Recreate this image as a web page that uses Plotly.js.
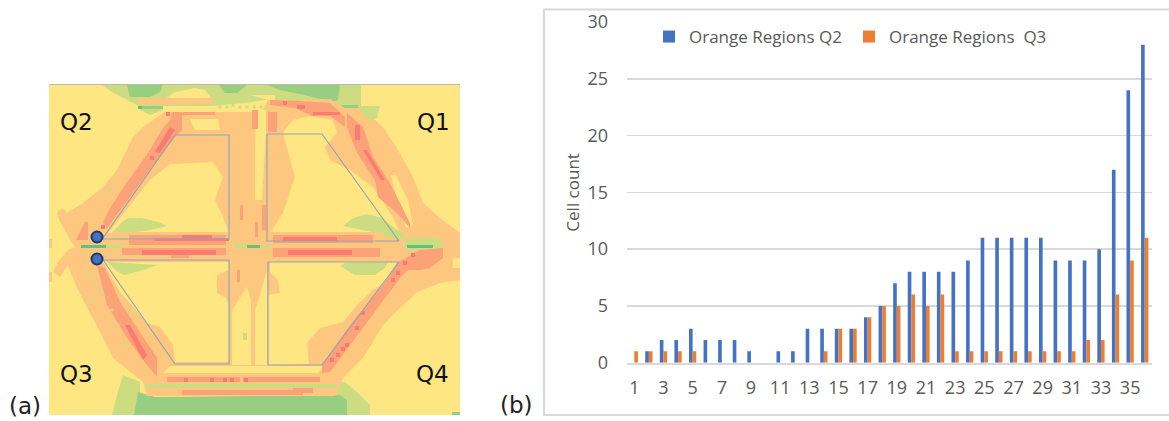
<!DOCTYPE html>
<html><head><meta charset="utf-8">
<script src="https://cdn.plot.ly/plotly-3.0.1.min.js"></script>
<style>html,body{margin:0;padding:0;background:#fff}</style></head>
<body><div id="chart" style="width:1169px;height:421px"></div>
<script>
// ---- panel (b) data ----
const categories = [1,2,3,4,5,6,7,8,9,10,11,12,13,14,15,16,17,18,19,20,21,22,23,24,25,26,27,28,29,30,31,32,33,34,35,36];
const orangeQ2 = [0,1,2,2,3,2,2,2,1,0,1,1,3,3,3,3,4,5,7,8,8,8,8,9,11,11,11,11,11,9,9,9,10,17,24,28];
const orangeQ3 = [1,1,1,1,1,0,0,0,0,0,0,0,0,1,3,3,4,5,5,6,5,6,1,1,1,1,1,1,1,1,1,2,2,6,9,11];
const xTickVals = [1,3,5,7,9,11,13,15,17,19,21,23,25,27,29,31,33,35];
const yTickVals = [0,5,10,15,20,25,30];

// ---- panel (a) data: heat-map regions ----
const YEL='#FEE782', ORG='#FDC77F', SAL='#FCA278', RED='#FA7B70', LGR='#CBDC81', GRN='#97CE7F', DGR='#68BF7B';
const mapBackground = [[49,85],[460,85],[460,415],[49,415]];
const topLightGreen = [[102,85],[361,85],[361,108],[340,110],[265,100],[245,103],[163,110],[150,115],[140,110],[137,105],[112,92]];
const bottomLeftLight = [[112,415],[117,395],[123,375],[140,382],[140,392],[134,415]];
const bottomRightLight = [[330,382],[345,382],[360,395],[370,405],[370,415],[347,415]];
const topYellowA = [[175,92],[195,88],[205,90],[212,99],[165,99]];
const topYellowB = [[250,95],[275,95],[275,103],[250,106],[163,106],[163,112],[268,112],[268,100]];
const topGreenA = [[127,85],[163,85],[160,92],[150,97],[130,97]];
const topGreenB = [[219,85],[247,85],[237,93],[225,93]];
const topGreenC = [[267,85],[340,85],[338,100],[333,102],[300,94],[280,90]];
const topGreenD = [[333,105],[358,105],[358,109],[333,109]];
const topGreenE = [[142,106],[163,106],[163,109],[142,109]];
const topDark = [[138,106],[142,106],[142,109],[138,109]];
const bottomGreen = [[134,415],[138,392],[155,397],[340,395],[347,400],[347,415]];
const cornerGreen = [[452,412],[460,412],[460,415],[452,415]];
const topOrangeBand = [[138,98],[212,98],[212,104],[138,105]];
const orangeMain = [[165,112],[262,112],[268,100],[300,100],[330,99],[345,108],[362,108],[373,118],[383,127],[398,150],[413,177],[423,203],[440,218],[460,233],[460,280],[440,283],[417,292],[400,308],[383,325],[363,358],[343,378],[335,396],[147,396],[143,382],[113,358],[100,332],[77,288],[68,265],[60,277],[53,272],[58,262],[68,250],[75,247],[70,240],[66,232],[60,222],[57,213],[62,208],[67,213],[83,203],[103,187],[117,170],[133,137],[143,127]];
const leftSpeckA = [[49,272],[52,272],[52,282],[49,282]];
const leftSpeckB = [[49,239],[52,239],[52,248],[49,248]];
const yellowQ2 = [[108,233],[150,180],[170,164],[213,162],[223,177],[215,200],[223,217],[229,233]];
const yellowQ1 = [[287,127],[293,120],[310,116],[333,120],[337,133],[325,147],[330,160],[350,170],[373,187],[393,217],[400,233],[270,233],[283,213],[288,197],[295,177],[283,133]];
const yellowQ3 = [[103,262],[229,262],[229,270],[217,275],[217,293],[226,298],[229,305],[229,362],[175,362],[173,345],[160,327],[147,323],[120,292]];
const yellowQ4 = [[270,262],[397,262],[385,282],[373,290],[357,305],[343,322],[320,328],[307,343],[309,364],[268,365],[268,295],[280,293],[278,280],[270,272]];
const yellowStrip = [[170,366],[325,366],[318,373],[163,373]];
const yellowNearTop = [[190,119],[218,119],[220,130],[195,130]];
const yellowColumn = [[256,110],[266,110],[266,133],[262,200],[255,200],[255,150]];
const yellowLowerLeft = [[232,365],[232,310],[240,298],[247,287],[251,300],[251,365]];
const yellowLowerRight = [[255,365],[255,310],[260,295],[267,270],[267,365]];
const yellowNotch = [[453,258],[460,258],[460,268],[453,268]];
const yellowStripe = [[391,175],[396,175],[408,200],[413,225],[406,228],[398,205]];
const greenIslandQ2 = [[112,233],[122,222],[128,218],[142,218],[158,222],[167,226],[150,230],[130,233]];
const greenIslandQ1 = [[343,226],[353,218],[367,214],[382,218],[397,230],[407,235],[398,240],[377,233]];
const greenIslandQ3 = [[107,262],[158,265],[143,270],[125,275],[118,272]];
const greenIslandQ4 = [[340,266],[345,263],[388,262],[385,268],[375,275],[355,275]];
const greenTopRight = [[361,106],[380,106],[377,118],[372,120],[365,118],[360,110]];
const greenRightTip = [[405,238],[440,238],[443,250],[405,250]];
const greenSpeck = [[243,333],[247,333],[247,340],[243,340]];
const salmonQ2 = [[172,112],[182,112],[182,130],[175,137],[150,170],[107,228],[103,222],[110,208],[125,185],[148,153],[163,128],[170,120]];
const salmonFlare = [[76,240],[85,222],[88,222],[88,240]];
const salmonQ1 = [[347,113],[363,127],[373,157],[390,183],[400,203],[410,223],[410,228],[397,213],[378,197],[375,180],[357,153],[347,127]];
const salmonQ3 = [[97,265],[105,268],[120,302],[157,358],[157,377],[147,365],[127,338],[107,305]];
const salmonQ4 = [[417,252],[420,258],[400,278],[367,322],[337,362],[330,372],[322,373],[322,365],[350,325],[383,285],[398,262]];
const salmonRightTip = [[396,265],[420,250],[443,248],[443,258],[430,268],[420,270],[405,270]];
const salmonTopRight = [[270,100],[300,101],[330,103],[340,112],[345,117],[345,127],[330,116],[312,116],[295,108],[270,105]];
const salmonTopLeft = [[173,112],[215,112],[215,115],[173,115]];
const salmonColA = [[252,110],[258,110],[258,129],[252,129]];
const salmonColB = [[268,112],[277,112],[277,132],[268,132]];
const salmonColC = [[240,205],[243,205],[243,220],[240,220]];
const salmonColD = [[255,222],[258,222],[258,237],[255,237]];
const salmonColE = [[262,205],[266,205],[266,230],[262,230]];
const salmonColF = [[237,270],[240,270],[240,282],[237,282]];
const orangeBandUL = [[115,232],[245,232],[245,245],[115,245]];
const orangeBandLL = [[122,248],[230,248],[230,258],[122,258]];
const orangeBandUR = [[270,232],[383,232],[383,243],[270,243]];
const orangeBandLR = [[267,248],[390,248],[390,258],[267,258]];
const salmonBandUL = [[129,235],[226,235],[226,245],[129,245]];
const salmonBandLL = [[122,248],[226,248],[226,255],[189,255],[189,258],[171,258],[171,255],[122,255]];
const salmonBandUR = [[273,235],[373,235],[373,243],[273,243]];
const salmonBandLR = [[273,248],[380,248],[380,257],[273,257]];
const redBandUL1 = [[182,235],[212,235],[212,238],[182,238]];
const redBandUL2 = [[155,238],[229,238],[229,241],[155,241]];
const redBandLL = [[142,250],[216,250],[216,255],[142,255]];
const redBandUR = [[283,237],[337,237],[337,241],[283,241]];
const redBandLR = [[288,250],[352,250],[352,255],[288,255]];
const salmonBottomA = [[167,377],[240,377],[240,382],[167,382]];
const salmonBottomB = [[243,377],[320,377],[320,382],[243,382]];
const salmonBottomC = [[182,390],[303,390],[303,395],[182,395]];
const salmonBottomD = [[293,388],[313,388],[313,393],[293,393]];
const lightBandBottom = [[145,384],[337,384],[337,388],[145,388]];
const redQ2A = [[155,152],[170,127],[175,130],[160,153]];
const redQ1A = [[355,125],[360,125],[360,140],[355,140]];
const redQ1B = [[363,150],[367,150],[385,180],[381,180]];
const redQ3 = [[125,325],[130,325],[147,355],[143,360]];
const redTopRight = [[313,112],[340,112],[340,115],[313,115]];
const greenBarA = [[81,245],[106,245],[106,248],[81,248]];
const greenBarB = [[247,245],[260,245],[260,248],[247,248]];
const greenBarC = [[407,245],[433,245],[433,248],[407,248]];
const lightBarA = [[106,245],[122,245],[122,248],[106,248]];
const lightBarB = [[235,243],[247,243],[247,248],[235,248]];
const lightBarC = [[260,245],[270,245],[270,248],[260,248]];
const redSpotsX = [186,212,225,232,246,285,299,303,332,338,343,347,357,363,393,398,405,413,168,152,103];
const redSpotsY = [380,380,380,380,380,103,107,107,360,355,349,345,328,313,280,273,263,255,114,158,227];
const greenDotsX = [220,227,233,240,247,254,261,268,110,106,112,100,96,93,90,118,123];
const greenDotsY = [107,107,105,107,107,107,107,107,190,195,310,290,280,300,275,325,345];

const trapQ2 = [[103,238],[175,135],[229,135],[229,239],[103,239]];
const trapQ1 = [[267,134],[322,134],[399,241],[267,241],[267,134]];
const trapQ3 = [[103,260],[229,260],[229,364],[175,364],[103,260]];
const trapQ4 = [[268,262],[399,262],[322,365],[268,365],[268,262]];
const dotsX = [97,97];
const dotsY = [237,259];
const quadrantLabels = ['Q2','Q1','Q3','Q4'];
const quadrantX = [76,433,76,432];
const quadrantY = [122,122,374,374];

// ---- painting order ----
const layers = [
 [mapBackground,YEL],[topLightGreen,LGR],[bottomLeftLight,LGR],[bottomRightLight,LGR],
 [topYellowA,YEL],[topYellowB,YEL],[topGreenA,GRN],[topGreenB,GRN],[topGreenC,GRN],[topGreenD,GRN],[topGreenE,GRN],[topDark,DGR],
 [bottomGreen,GRN],[cornerGreen,GRN],[topOrangeBand,ORG],[orangeMain,ORG],[leftSpeckA,ORG],[leftSpeckB,ORG],
 [yellowQ2,YEL],[yellowQ1,YEL],[yellowQ3,YEL],[yellowQ4,YEL],[yellowStrip,YEL],[yellowNearTop,YEL],[yellowColumn,YEL],
 [yellowLowerLeft,YEL],[yellowLowerRight,YEL],[yellowNotch,YEL],[yellowStripe,YEL],
 [greenIslandQ2,LGR],[greenIslandQ1,LGR],[greenIslandQ3,LGR],[greenIslandQ4,LGR],[greenTopRight,LGR],[greenRightTip,LGR],[greenSpeck,LGR],[lightBandBottom,LGR],
 [salmonQ2,SAL],[salmonFlare,SAL],[salmonQ1,SAL],[salmonQ3,SAL],[salmonQ4,SAL],[salmonRightTip,SAL],[salmonTopRight,SAL],[salmonTopLeft,SAL],
 [salmonColA,SAL],[salmonColB,SAL],[salmonColC,SAL],[salmonColD,SAL],[salmonColE,SAL],[salmonColF,SAL],
 [orangeBandUL,ORG],[orangeBandLL,ORG],[orangeBandUR,ORG],[orangeBandLR,ORG],
 [salmonBandUL,SAL],[salmonBandLL,SAL],[salmonBandUR,SAL],[salmonBandLR,SAL],
 [salmonBottomA,SAL],[salmonBottomB,SAL],[salmonBottomC,SAL],[salmonBottomD,SAL],
 [redBandUL1,RED],[redBandUL2,RED],[redBandLL,RED],[redBandUR,RED],[redBandLR,RED],
 [redQ2A,RED],[redQ1A,RED],[redQ1B,RED],[redQ3,RED],[redTopRight,RED],
 [lightBarA,LGR],[lightBarB,LGR],[lightBarC,LGR],[greenBarA,DGR],[greenBarB,DGR],[greenBarC,DGR]
];
const W=1169,H=421;
const traces = layers.map(([pts,c])=>({type:'scatter',mode:'lines',x:pts.map(p=>p[0]),y:pts.map(p=>p[1]),fill:'toself',fillcolor:c,line:{width:0,color:c},hoverinfo:'skip',showlegend:false,xaxis:'x',yaxis:'y'}));
traces.push({type:'scatter',mode:'markers',x:redSpotsX,y:redSpotsY,marker:{symbol:'square',size:4,color:RED},hoverinfo:'skip',showlegend:false});
traces.push({type:'scatter',mode:'markers',x:greenDotsX,y:greenDotsY,marker:{symbol:'square',size:3,color:LGR},hoverinfo:'skip',showlegend:false});
[trapQ2,trapQ1,trapQ3,trapQ4].forEach(t=>traces.push({type:'scatter',mode:'lines',x:t.map(p=>p[0]),y:t.map(p=>p[1]),line:{width:1.2,color:'#93A3B8'},hoverinfo:'skip',showlegend:false}));
traces.push({type:'scatter',mode:'markers',x:dotsX,y:dotsY,marker:{size:11,color:'#4472C4',line:{width:2,color:'#1F3864'}},hoverinfo:'skip',showlegend:false});

traces.push({type:'bar',name:'Orange Regions Q2',x:categories,y:orangeQ2,marker:{color:'#4472C4'},xaxis:'x2',yaxis:'y2'});
traces.push({type:'bar',name:'Orange Regions  Q3',x:categories,y:orangeQ3,marker:{color:'#ED7D31'},xaxis:'x2',yaxis:'y2'});

const TXT='#595959', FONT='"Open Sans", sans-serif', WIDE='"DejaVu Sans", sans-serif';
const annotations = quadrantLabels.map((t,i)=>({text:t,x:quadrantX[i],y:quadrantY[i],xref:'x',yref:'y',showarrow:false,font:{family:WIDE,size:23,color:'#111'},xanchor:'center',yanchor:'middle'}));
annotations.push({text:'(a)',x:25/W,y:1-406/H,xref:'paper',yref:'paper',showarrow:false,font:{family:WIDE,size:23,color:'#222'},xanchor:'center',yanchor:'middle'});
annotations.push({text:'(b)',x:516/W,y:1-405/H,xref:'paper',yref:'paper',showarrow:false,font:{family:WIDE,size:23,color:'#222'},xanchor:'center',yanchor:'middle'});

const layout = {
 width:W,height:H,margin:{l:0,r:0,t:0,b:0},paper_bgcolor:'#fff',plot_bgcolor:'rgba(0,0,0,0)',
 font:{family:FONT,color:TXT},barmode:'group',bargap:0.5,bargroupgap:0,
 xaxis:{domain:[49/W,460/W],range:[49,460],visible:true,showgrid:false,zeroline:false,showticklabels:false,ticks:'',side:'top',showline:true,linecolor:'#BDB8A8',linewidth:1,anchor:'y'},
 yaxis:{domain:[1-415/H,1-85/H],range:[415,85],showgrid:false,zeroline:false,showticklabels:false,ticks:'',showline:false,anchor:'x'},
 xaxis2:{domain:[627/W,1152/W],range:[0.5,36.5],type:'linear',tickmode:'array',tickvals:xTickVals,ticktext:xTickVals.map(String),tickfont:{size:18,color:TXT},ticks:'',ticklabelstandoff:8,showgrid:false,zeroline:false,showline:true,linecolor:'#D9D9D9',linewidth:2,anchor:'y2'},
 yaxis2:{domain:[1-362.7/H,1-22/H],range:[0,30],tickmode:'array',tickvals:yTickVals,tickfont:{size:18,color:TXT},ticks:'',ticklabelstandoff:18,showgrid:true,gridcolor:'#D9D9D9',gridwidth:1.5,zeroline:false,showline:false,anchor:'x2',title:{text:'Cell count',font:{size:17,color:TXT},standoff:3}},
 legend:{orientation:'h',x:649/W,y:1-37/H,xanchor:'left',yanchor:'middle',font:{size:17,color:TXT},bgcolor:'rgba(0,0,0,0)',entrywidth:155,entrywidthmode:'pixels',traceorder:'normal'},
 shapes:[{type:'rect',xref:'paper',yref:'paper',x0:544/W,x1:1175/W,y0:1-415/H,y1:1-9.5/H,line:{color:'#D9D9D9',width:2},fillcolor:'rgba(0,0,0,0)',layer:'below'}],
 annotations
};
Plotly.newPlot('chart',traces,layout,{displayModeBar:false,staticPlot:true});
</script></body></html>
